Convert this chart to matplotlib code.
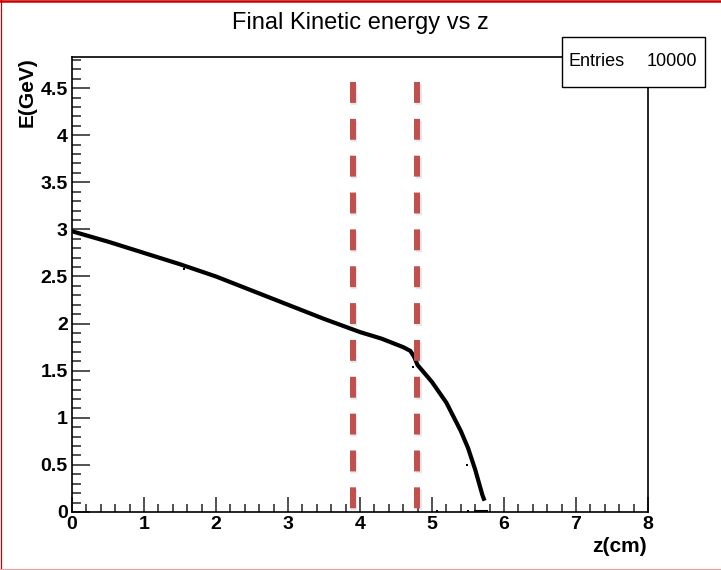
import matplotlib
matplotlib.use("Agg")
import matplotlib.pyplot as plt
import matplotlib.patheffects as pe
from matplotlib.patches import Rectangle
from matplotlib.lines import Line2D
from matplotlib.ticker import MultipleLocator

plt.rcParams['font.family'] = ['Liberation Sans', 'DejaVu Sans']

# energy vs depth, read along the band of points
z_cm = [0.0, 0.5, 1.0, 1.5, 2.0, 2.5, 3.0, 3.5, 4.0, 4.3, 4.6, 4.7, 4.75,
        4.8, 4.9, 5.0, 5.2, 5.4, 5.5, 5.6, 5.7, 5.73]
e_gev = [2.98, 2.87, 2.75, 2.63, 2.50, 2.35, 2.20, 2.05, 1.91, 1.84, 1.75,
         1.71, 1.65, 1.56, 1.47, 1.38, 1.16, 0.86, 0.68, 0.45, 0.18, 0.12]

# stray entries off the main band
stray_z = [4.74, 5.48, 5.07, 5.50, 1.55, 3.4]
stray_e = [1.54, 0.50, 0.01, 0.01, 2.58, 2.08]

# entries piled up at E~0 at the end of the range
floor_z = [5.60, 5.76]
floor_e = [0.01, 0.01]

cut_z = [3.9, 4.79]
cut_top = 4.56

entries = 10000

W, H = 721, 570
fig = plt.figure(figsize=(W / 100, H / 100), dpi=100)
ax = fig.add_axes([72 / W, 1 - 512 / H, (648 - 72) / W, (512 - 57) / H])

ax.plot(z_cm, e_gev, color='black', lw=3.0, solid_capstyle='butt', zorder=3)
ax.plot(floor_z, floor_e, color='black', lw=1.5, zorder=3)
ax.scatter(stray_z, stray_e, s=4, color='black', marker='s', lw=0, zorder=3)

shadow = [pe.SimpleLineShadow(offset=(1.2, -1.2), shadow_color='gray', alpha=0.18),
          pe.Normal()]
for zc in cut_z:
    ax.plot([zc, zc], [cut_top, 0], color='#C0504D', lw=4.3,
            dashes=(3.5, 2.67), dash_capstyle='butt', zorder=4,
            path_effects=shadow)

ax.set_xlim(0, 8)
ax.set_ylim(0, 4.83)
ax.xaxis.set_major_locator(MultipleLocator(1))
ax.xaxis.set_minor_locator(MultipleLocator(0.2))
ax.yaxis.set_major_locator(MultipleLocator(0.5))
ax.yaxis.set_minor_locator(MultipleLocator(0.1))
ax.yaxis.set_major_formatter(matplotlib.ticker.FuncFormatter(lambda v, p: f"{v:g}"))

ax.tick_params(axis='x', which='major', direction='in', length=10.5, width=1.1, pad=3)
ax.tick_params(axis='x', which='minor', direction='in', length=5.8, width=1.1)
ax.tick_params(axis='y', which='major', direction='in', length=13, width=1.1, pad=3)
ax.tick_params(axis='y', which='minor', direction='in', length=6.5, width=1.1)
ax.tick_params(which='both', colors='#222222', labelcolor='black')
for lab in ax.get_xticklabels() + ax.get_yticklabels():
    lab.set_fontsize(14)
    lab.set_fontweight('bold')
for sp in ax.spines.values():
    sp.set_linewidth(1.2)

fig.text(360 / W, 1 - 29 / H, 'Final Kinetic energy vs z', ha='center',
         va='baseline', fontsize=17)
fig.text(27 / W, 1 - 57 / H, 'E(GeV)', rotation=90, ha='center', va='top',
         fontsize=15, fontweight='bold')
fig.text(647 / W, 1 - 547 / H, 'z(cm)', ha='right', va='center',
         fontsize=15, fontweight='bold')

# stats box
fig.add_artist(Rectangle((562 / W, 1 - 87 / H), 143 / W, 50 / H,
                         transform=fig.transFigure, fc='white', ec='black',
                         lw=1, zorder=10))
fig.text(568 / W, 1 - 62 / H, 'Entries', ha='left', va='center', fontsize=13, zorder=11)
fig.text(697 / W, 1 - 62 / H, str(entries), ha='right', va='center', fontsize=13, zorder=11)

# red frame lines on top, left and bottom
fig.add_artist(Line2D([0, 1], [1 - 1 / H, 1 - 1 / H], transform=fig.transFigure,
                      color='#C80000', lw=1.8))
fig.add_artist(Line2D([0.5 / W, 0.5 / W], [0, 1], transform=fig.transFigure,
                      color='#C80000', lw=0.9))
fig.add_artist(Line2D([0, 1], [1.5 / H, 1.5 / H], transform=fig.transFigure,
                      color='#E8A0A0', lw=0.9))

fig.savefig("out.png", dpi=100)
